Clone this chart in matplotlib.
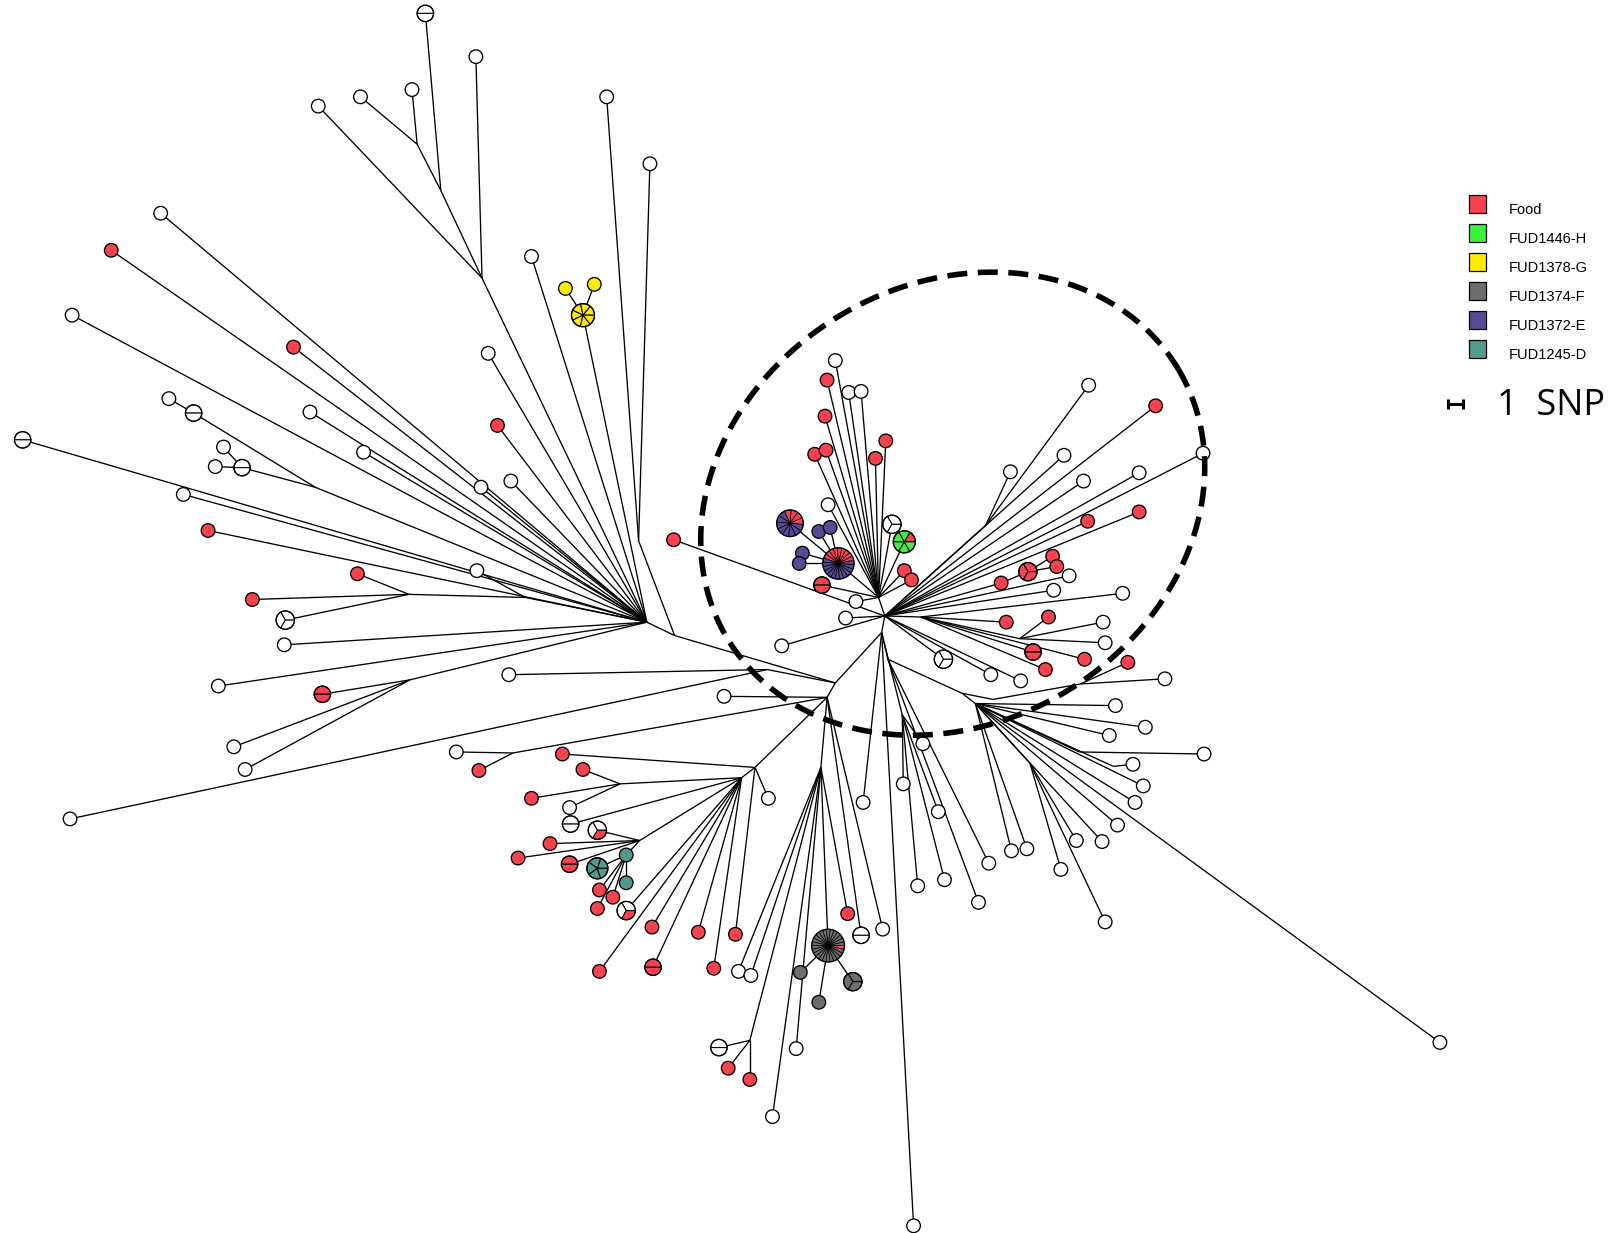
import numpy as np
import matplotlib
matplotlib.use("Agg")
import matplotlib.pyplot as plt
from matplotlib.patches import Wedge, Circle, Rectangle
from matplotlib.collections import LineCollection

# ---------------------------------------------------------------------------
# Legend groups and colours (composition code letter -> colour)
# ---------------------------------------------------------------------------
GROUPS = ["Food", "FUD1446-H", "FUD1378-G", "FUD1374-F", "FUD1372-E", "FUD1245-D"]
GROUP_CODES = ["r", "h", "y", "f", "p", "t"]
GROUP_COLORS = ["#F7434F", "#3CF23C", "#FFEB00", "#6E6E6E", "#574A94", "#529A8C"]
CODE_COLOR = dict(zip(GROUP_CODES, GROUP_COLORS))
CODE_COLOR["w"] = "#FFFFFF"

# ---------------------------------------------------------------------------
# Minimum spanning tree layout: (id, x, y, isolate composition)
# an empty composition is a branching point without a sample
# ---------------------------------------------------------------------------
NODES_INNER = [
    ("HC", 859, 598, ""), ("HU", 853, 580, ""),
    ("u1", 811, 350, "w"), ("u2", 803, 369, "r"), ("u3", 824, 381, "w"),
    ("u4", 836, 380, "w"), ("u5", 801, 404, "r"), ("u6", 791, 441, "r"),
    ("u7", 802, 437, "r"), ("u8", 860, 428, "r"), ("u9", 850, 445, "r"),
    ("u10", 804, 490, "w"),
    ("pS", 767, 508, "rrrr" + "p" * 8),
    ("p1", 795, 516, "p"), ("p2", 806, 512, "p"), ("p3", 779, 537, "p"), ("p4", 776, 547, "p"),
    ("pB", 814, 547, "r" * 9 + "p" * 13),
    ("u11", 798, 568, "rr"), ("u12", 831, 584, "w"), ("u13", 821, 600, "w"),
    ("u14", 866, 509, "www"), ("gH", 878, 526, "rhhhhh"),
    ("u15", 878, 554, "r"), ("u16", 885, 563, "r"),
    ("l1", 654, 524, "r"), ("l2", 759, 627, "w"),
]
EDGES_INNER = [
    ("u1", "HU"), ("u2", "HU"), ("u3", "HU"), ("u4", "HU"), ("u5", "HU"),
    ("u6", "HU"), ("u7", "HU"), ("u8", "HU"), ("u9", "HU"), ("u10", "HU"),
    ("pS", "pB"), ("p1", "pB"), ("p2", "pB"), ("p3", "pB"), ("p4", "pB"),
    ("pB", "HU"), ("u11", "HU"), ("u12", "HU"), ("u13", "HC"), ("u14", "HU"),
    ("gH", "HU"), ("u15", "HU"), ("u16", "HU"), ("HU", "HC"),
    ("l1", "HC"), ("l2", "HC"),
]

NODES_RIGHT = [
    ("HR", 894, 599, ""), ("HJ1", 990, 620, ""), ("RJ", 957, 510, ""),
    ("ru1", 1057, 374, "w"), ("ru1b", 981, 458, "w"), ("ru2", 1122, 394, "r"),
    ("ru3", 1033, 442, "w"), ("ru4", 1052, 467, "w"), ("ru5", 1106, 459, "w"),
    ("ru6", 1168, 440, "w"), ("ru7", 1056, 506, "r"), ("ru8", 1106, 497, "r"),
    ("ru9", 972, 566, "r"), ("ru10", 998, 555, "rrr"), ("ru11", 1022, 540, "r"),
    ("ru12", 1026, 550, "r"), ("ru13", 1038, 559, "w"), ("ru14", 1023, 573, "w"),
    ("ru15", 1090, 576, "w"), ("ru16", 977, 604, "r"), ("ru17", 1018, 599, "r"),
    ("ru18", 1071, 604, "w"), ("ru19", 1073, 624, "w"), ("ru20", 1003, 633, "rr"),
    ("ru21", 1053, 640, "r"), ("ru22", 1015, 650, "r"), ("ru23", 916, 640, "www"),
    ("ru24", 962, 655, "w"), ("ru25", 991, 661, "w"),
]
EDGES_RIGHT = [
    ("ru1", "RJ"), ("ru1b", "RJ"), ("RJ", "HC"), ("ru2", "HC"), ("ru3", "HC"),
    ("ru4", "HC"), ("ru5", "HC"), ("ru6", "HC"), ("ru7", "HC"), ("ru8", "HC"),
    ("ru9", "HC"), ("ru10", "ru9"), ("ru11", "ru10"), ("ru12", "ru10"),
    ("ru13", "HC"), ("ru14", "HC"), ("ru15", "HR"), ("ru16", "HR"),
    ("ru17", "HJ1"), ("ru18", "HJ1"), ("ru19", "HJ1"), ("HJ1", "HR"),
    ("ru20", "HR"), ("ru21", "HR"), ("ru22", "HR"), ("HR", "HC"),
    ("ru23", "HC"), ("ru24", "HC"), ("ru25", "HC"),
]

NODES_BR = [
    ("HM", 856, 614, ""), ("HD", 862, 640, ""), ("HBR2", 934, 673, ""),
    ("HBR3", 947, 683, ""), ("HBR4", 964, 679, ""), ("HBR5", 1049, 664, ""),
    ("HBR6", 1048, 730, ""), ("HBR7", 1081, 744, ""), ("HBR8", 1000, 741, ""),
    ("HE", 876, 694, ""),
    ("b1", 1131, 659, "w"), ("b2", 1095, 643, "r"), ("b3", 1083, 685, "w"),
    ("b4", 1112, 706, "w"), ("b5", 1077, 714, "w"), ("b6", 1169, 732, "w"),
    ("b7", 1100, 742, "w"), ("b8", 1110, 763, "w"), ("b9", 1102, 779, "w"),
    ("b10", 1085, 801, "w"), ("b11", 1070, 817, "w"), ("b12", 1398, 1012, "w"),
    ("b13", 997, 824, "w"), ("b14", 982, 826, "w"), ("b15", 1045, 816, "w"),
    ("b16", 1030, 844, "w"), ("b17", 1073, 895, "w"), ("b18", 960, 838, "w"),
    ("b19", 950, 876, "w"), ("b20", 896, 722, "w"), ("b21", 877, 761, "w"),
    ("b22", 911, 788, "w"), ("b23", 891, 860, "w"), ("b24", 917, 854, "w"),
    ("b25", 838, 779, "w"), ("b26", 887, 1190, "w"),
]
EDGES_BR = [
    ("HC", "HM"), ("HM", "HD"), ("HD", "HBR2"), ("HBR2", "HBR3"), ("HBR2", "HBR4"),
    ("HBR4", "HBR5"), ("HBR5", "b1"), ("b2", "HBR5"),
    ("HBR3", "b3"), ("HBR3", "b4"), ("HBR3", "b5"), ("HBR3", "HBR6"), ("HBR6", "b6"),
    ("HBR3", "HBR7"), ("HBR7", "b7"), ("HBR3", "b8"), ("HBR3", "b9"), ("HBR3", "b10"),
    ("HBR3", "b11"), ("HBR3", "b12"), ("HBR3", "b13"), ("HBR3", "b14"),
    ("HBR3", "HBR8"), ("HBR8", "b15"), ("HBR8", "b16"), ("HBR8", "b17"),
    ("HD", "b18"), ("HD", "b19"), ("HM", "HE"), ("HE", "b20"), ("HE", "b21"),
    ("HE", "b22"), ("HE", "b23"), ("HE", "b24"), ("HM", "b25"), ("HM", "b26"),
]

NODES_BM = [
    ("HT", 811, 663, ""), ("HB", 803, 677, ""), ("HG", 797, 745, ""), ("HH", 728, 1010, ""),
    ("HK", 745, 650, ""),
    ("m1", 750, 1084, "w"), ("m2", 698, 1017, "ww"), ("m3", 707, 1037, "r"),
    ("m4", 728, 1048, "r"), ("m5", 773, 1018, "w"),
    ("gF", 804, 918, "r" + "f" * 25),
    ("g1", 777, 944, "f"), ("g2", 795, 973, "f"), ("g3", 828, 953, "fff"),
    ("m6", 823, 887, "r"), ("m7", 836, 908, "ww"), ("m8", 857, 902, "w"),
    ("m9", 717, 943, "w"), ("m10", 729, 947, "w"),
]
EDGES_BM = [
    ("HM", "HT"), ("HT", "HB"), ("HB", "HG"), ("HG", "m1"), ("HG", "HH"),
    ("HH", "m2"), ("HH", "m3"), ("HH", "m4"), ("HG", "m5"), ("HG", "gF"),
    ("gF", "g1"), ("gF", "g2"), ("gF", "g3"), ("m6", "HG"), ("m7", "HB"),
    ("m8", "HB"), ("m9", "HG"), ("m10", "HG"), ("HK", "HT"),
]

NODES_BL = [
    ("HBL", 733, 745, ""), ("HBL2", 720, 755, ""), ("J1", 498, 731, ""),
    ("J2", 602, 761, ""), ("J3", 621, 816, ""),
    ("t0", 608, 830, "t"),
    ("n1", 443, 730, "w"), ("n2", 465, 748, "r"), ("n3", 546, 732, "r"),
    ("n4", 566, 747, "r"), ("n5", 516, 775, "r"), ("n6", 553, 784, "w"),
    ("n7", 554, 800, "ww"), ("n8", 580, 806, "wwr"), ("n9", 534, 819, "r"),
    ("n10", 503, 833, "r"), ("n11", 553, 839, "rr"), ("tP", 580, 843, "ttttt"),
    ("t1", 608, 857, "t"), ("n12", 582, 864, "r"), ("n13", 595, 871, "r"),
    ("n14", 580, 882, "r"), ("n15", 608, 884, "wwr"), ("n16", 633, 900, "r"),
    ("n17", 582, 943, "r"), ("n18", 634, 939, "rr"), ("n19", 678, 905, "r"),
    ("n20", 693, 940, "r"), ("n21", 714, 907, "r"), ("n22", 746, 775, "w"),
    ("n23", 494, 655, "w"), ("n24", 703, 676, "w"), ("n25", 68, 795, "w"),
]
EDGES_BL = [
    ("HB", "HBL"), ("HBL", "HBL2"), ("HBL", "n3"), ("HBL2", "J2"),
    ("J2", "n4"), ("J2", "n5"), ("J2", "n6"), ("HBL2", "n7"), ("HBL2", "J3"),
    ("J3", "n8"), ("J3", "n9"), ("J3", "n10"), ("J3", "n11"), ("J3", "t0"),
    ("t0", "tP"), ("t0", "t1"), ("t0", "n12"), ("t0", "n13"), ("t0", "n14"),
    ("HBL2", "n15"), ("HBL2", "n16"), ("HBL2", "n17"), ("HBL2", "n18"),
    ("HBL2", "n19"), ("HBL2", "n20"), ("HBL", "n21"), ("HBL", "n22"),
    ("J1", "n1"), ("J1", "n2"), ("J1", "HB"), ("n23", "HK"), ("n24", "HB"),
    ("n25", "HK"),
]

NODES_LEFT = [
    ("HL", 628, 604, ""), ("HL2", 655, 617, ""), ("T1", 405, 140, ""),
    ("T2", 428, 185, ""), ("T3", 468, 270, ""), ("T4", 620, 525, ""),
    ("T5", 306, 473, ""), ("T6", 397, 577, ""), ("T7", 510, 580, ""),
    ("T8", 398, 660, ""),
    ("a1", 309, 103, "w"), ("a2", 350, 94, "w"), ("a3", 400, 87, "w"),
    ("a4", 413, 13, "ww"), ("a5", 462, 55, "w"), ("a6", 589, 94, "w"),
    ("a7", 631, 159, "w"), ("a8", 516, 249, "w"), ("yG", 566, 306, "y" * 7),
    ("y1", 549, 280, "y"), ("y2", 577, 276, "y"), ("a9", 474, 343, "w"),
    ("a10", 483, 413, "r"), ("a11", 467, 473, "w"), ("a12", 496, 467, "w"),
    ("a13", 156, 207, "w"), ("a14", 108, 243, "r"), ("a15", 70, 306, "w"),
    ("a16", 285, 337, "r"), ("a17", 164, 387, "w"), ("a18", 188, 401, "ww"),
    ("a19", 217, 434, "w"), ("a20", 235, 454, "ww"), ("a21", 209, 453, "w"),
    ("a22", 22, 427, "ww"), ("a23", 301, 400, "w"), ("a24", 353, 439, "w"),
    ("a25", 178, 480, "w"), ("a26", 202, 515, "r"), ("a27", 347, 557, "r"),
    ("a28", 245, 582, "r"), ("a29", 277, 602, "www"), ("a30", 463, 554, "w"),
    ("a31", 276, 626, "w"), ("a32", 212, 666, "w"), ("a33", 313, 674, "rr"),
    ("a34", 227, 725, "w"), ("a35", 238, 747, "w"),
]
EDGES_LEFT = [
    ("a1", "T3"), ("a2", "T1"), ("a3", "T1"), ("T1", "T2"), ("a4", "T2"),
    ("T2", "T3"), ("a5", "T3"), ("T3", "HL"), ("a6", "T4"), ("a7", "T4"),
    ("T4", "HL2"), ("a8", "HL"), ("yG", "HL"), ("y1", "yG"), ("y2", "yG"),
    ("a9", "HL"), ("a10", "HL"), ("a11", "HL"), ("a12", "HL"), ("a13", "HL"),
    ("a14", "HL"), ("a15", "HL"), ("a16", "HL"), ("a17", "a18"), ("a18", "T5"),
    ("a19", "a20"), ("a21", "a20"), ("a20", "T5"), ("T5", "HL"), ("a22", "HL"),
    ("a23", "HL"), ("a24", "HL"), ("a25", "HL"), ("a26", "HL"), ("a27", "T6"),
    ("a28", "T6"), ("a29", "T6"), ("T6", "T7"), ("a30", "T7"), ("T7", "HL"),
    ("a31", "HL"), ("a32", "HL"), ("a33", "T8"), ("a34", "T8"), ("a35", "T8"),
    ("T8", "HL"), ("HL", "HL2"), ("HL2", "HT"),
]

# highlighted cluster outline: centre, semi-axes, tilt (degrees)
CLUSTER_CENTER = (925, 489)
CLUSTER_AXES = (255, 213)
CLUSTER_TILT = 30.8

# ---------------------------------------------------------------------------
# drawing styles
# ---------------------------------------------------------------------------
W, H = 1568, 1197
NODE_R = 6.6
PIE_START = {"pB": 12, "pS": -5, "gH": 0, "gF": -14, "yG": 0}

nodes = NODES_INNER + NODES_RIGHT + NODES_BR + NODES_BM + NODES_BL + NODES_LEFT
edges = EDGES_INNER + EDGES_RIGHT + EDGES_BR + EDGES_BM + EDGES_BL + EDGES_LEFT
pos = {nid: (x, y) for nid, x, y, _ in nodes}

fig = plt.figure(figsize=(16.15, 12.33), dpi=100)
ax = fig.add_axes([0, 0, 1, 1])
ax.set_xlim(0, W)
ax.set_ylim(H, 0)
ax.axis("off")

segs = [[pos[a], pos[b]] for a, b in edges]
ax.add_collection(LineCollection(segs, colors="black", linewidths=0.95, zorder=2))

# dashed outline around the cluster
t = np.linspace(0, 2 * np.pi, 400)
phi = np.deg2rad(CLUSTER_TILT)
a, b = CLUSTER_AXES
ex = CLUSTER_CENTER[0] + a * np.cos(t) * np.cos(phi) + b * np.sin(t) * np.sin(phi)
ey = CLUSTER_CENTER[1] - a * np.cos(t) * np.sin(phi) + b * np.sin(t) * np.cos(phi)
ax.plot(ex, ey, color="black", lw=4.0, linestyle=(0, (3.6, 1.9)), zorder=6,
        solid_capstyle="butt", dash_capstyle="butt")


def draw_node(nid, x, y, comp):
    n = len(comp)
    r = NODE_R * n ** 0.27
    if n == 1:
        ax.add_patch(Circle((x, y), r, fc=CODE_COLOR[comp], ec="black", lw=0.95, zorder=4))
        return
    start = PIE_START.get(nid, 0)
    step = 360.0 / n
    wlw = 0.75 if n <= 8 else 0.5
    for k, c in enumerate(comp):
        v1 = start + k * step
        v2 = start + (k + 1) * step
        ax.add_patch(Wedge((x, y), r, -v2, -v1, fc=CODE_COLOR[c], ec="black",
                           lw=wlw, zorder=4))
    ax.add_patch(Circle((x, y), r, fill=False, ec="black", lw=0.95, zorder=5))


for nid, x, y, comp in nodes:
    if comp:
        draw_node(nid, x, y, comp)

# legend
for i, (name, col) in enumerate(zip(GROUPS, GROUP_COLORS)):
    yc = 198 + i * 28.2
    ax.add_patch(Rectangle((1426, yc - 8.5), 17, 17, fc=col, ec="black", lw=0.9, zorder=7))
    ax.text(1465, yc + 6, name, fontsize=10.5, family="Liberation Sans",
            va="center", ha="left", zorder=7)

# scale bar: one SNP
ax.plot([1406, 1420], [392, 392], color="black", lw=2.2, solid_capstyle="butt", zorder=7)
ax.plot([1406, 1406], [387, 397], color="black", lw=2.2, solid_capstyle="butt", zorder=7)
ax.plot([1420, 1420], [387, 397], color="black", lw=2.2, solid_capstyle="butt", zorder=7)
ax.text(1453, 394, "1  SNP", fontsize=26, family="Open Sans", va="center", ha="left",
        zorder=7)

fig.savefig("out.png", dpi=100, facecolor="white")
